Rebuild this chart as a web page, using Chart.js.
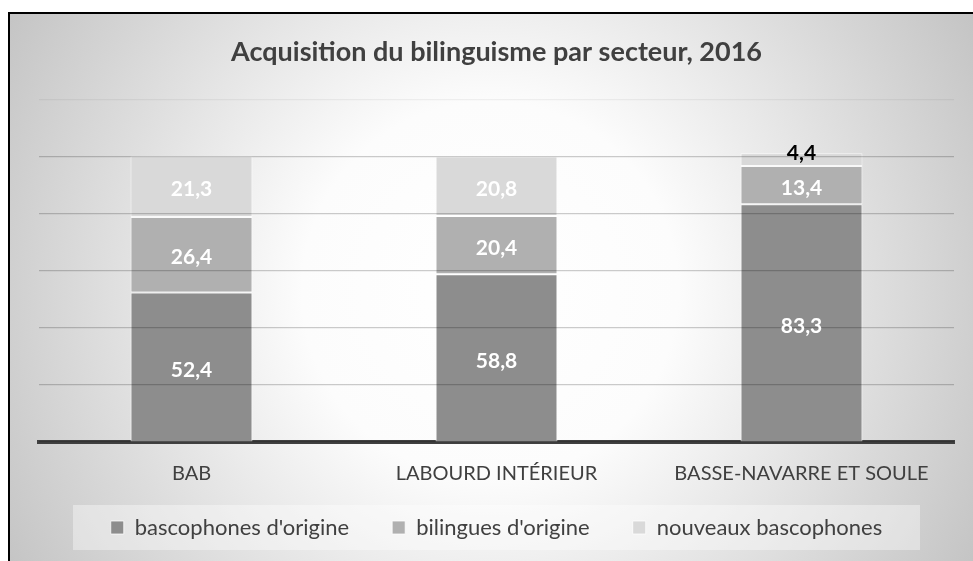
<!DOCTYPE html>
<html><head><meta charset="utf-8">
<script src="https://cdn.jsdelivr.net/npm/chart.js@4/dist/chart.umd.min.js"></script>
<style>html,body{margin:0;padding:0;background:#fff;}canvas{display:block}</style>
</head><body>
<canvas id="c" width="973" height="561"></canvas>
<script>
const categories = ['BAB', 'LABOURD INTÉRIEUR', 'BASSE-NAVARRE ET SOULE'];
const seriesNames = ["bascophones d'origine", "bilingues d'origine", "nouveaux bascophones"];
const bascophones = [52.4, 58.8, 83.3];
const bilingues = [26.4, 20.4, 13.4];
const nouveaux = [21.3, 20.8, 4.4];
const yTicks = [0, 20, 40, 60, 80, 100, 120];
const titleText = 'Acquisition du bilinguisme par secteur, 2016';

const FONT = 'Lato';
const TEXT = '#404040';
const fmt = v => v.toFixed(1).replace('.', ',');

const background = {
  id: 'background',
  beforeDraw(chart) {
    const ctx = chart.ctx, W = chart.width, H = chart.height;
    ctx.save();
    ctx.fillStyle = '#fff';
    ctx.fillRect(0, 0, W, H);
    const g = ctx.createRadialGradient(490, 290, 0, 490, 290, 570);
    g.addColorStop(0, '#ffffff');
    g.addColorStop(0.33, '#fcfcfc');
    g.addColorStop(1, '#c2c2c2');
    ctx.fillStyle = g;
    ctx.fillRect(9, 13, W, H);
    ctx.strokeStyle = '#000';
    ctx.lineWidth = 2;
    ctx.beginPath();
    ctx.moveTo(9, H + 5);
    ctx.lineTo(9, 13);
    ctx.lineTo(W + 5, 13);
    ctx.stroke();
    // legend panel
    ctx.fillStyle = 'rgba(255,255,255,0.38)';
    ctx.fillRect(73, 505, 847, 45);
    ctx.restore();
  }
};

const legendShift = {
  id: 'legendShift',
  afterLayout(chart) {
    const lg = chart.legend;
    if (lg) { lg.top -= 12.5; lg.bottom -= 12.5; }
  }
};

const valueLabels = {
  id: 'valueLabels',
  afterDraw(chart) {
    const ctx = chart.ctx;
    ctx.save();
    ctx.font = `bold 21px ${FONT}`;
    ctx.textAlign = 'center';
    ctx.textBaseline = 'middle';
    chart.data.datasets.forEach((ds, i) => {
      chart.getDatasetMeta(i).data.forEach((bar, j) => {
        const v = ds.data[j];
        const h = bar.base - bar.y;
        const small = h < 20;
        ctx.fillStyle = small ? '#000' : '#fff';
        const y = small ? bar.y : (bar.y + bar.base) / 2 + 3;
        ctx.fillText(fmt(v), bar.x, y);
      });
    });
    ctx.restore();
  }
};

const colors = ['#8d8d8d', '#b0b0b0', '#d9d9d9'];
const seriesData = [bascophones, bilingues, nouveaux];

new Chart(document.getElementById('c'), {
  type: 'bar',
  data: {
    labels: categories,
    datasets: seriesData.map((d, i) => ({
      label: seriesNames[i],
      data: d,
      backgroundColor: colors[i],
      borderColor: 'rgba(255,255,255,0.75)',
      borderWidth: 1,
      borderSkipped: false,
      categoryPercentage: 0.4,
      barPercentage: 1
    }))
  },
  options: {
    responsive: false,
    devicePixelRatio: 1,
    animation: false,
    layout: { padding: { left: 39, right: 19, top: 0, bottom: 0 } },
    scales: {
      x: {
        stacked: true,
        grid: { display: false, drawTicks: false },
        border: { display: true, color: '#404040', width: 4 },
        ticks: { color: TEXT, font: { family: FONT, size: 20 }, padding: 20, maxRotation: 0, autoSkip: false },
        afterFit: s => { s.height = 44; }
      },
      y: {
        stacked: true,
        min: 0, max: 120,
        afterBuildTicks: s => { s.ticks = yTicks.map(v => ({ value: v })); },
        grid: {
          z: 1,
          drawTicks: false,
          color: c => c.tick && c.tick.value === 120 ? 'rgba(0,0,0,0.05)' : 'rgba(0,0,0,0.2)',
          lineWidth: 1.2
        },
        border: { display: false },
        ticks: { display: false }
      }
    },
    plugins: {
      title: {
        display: true,
        text: titleText,
        color: TEXT,
        font: { family: FONT, size: 27, weight: 'bold' },
        padding: { top: 35.8, bottom: 31.2 }
      },
      legend: {
        position: 'bottom',
        labels: {
          color: TEXT,
          font: { family: FONT, size: 22 },
          boxWidth: 13,
          boxHeight: 13,
          padding: 43
        }
      },
      tooltip: { enabled: false }
    }
  },
  plugins: [background, legendShift, valueLabels]
});
</script>
</body></html>
